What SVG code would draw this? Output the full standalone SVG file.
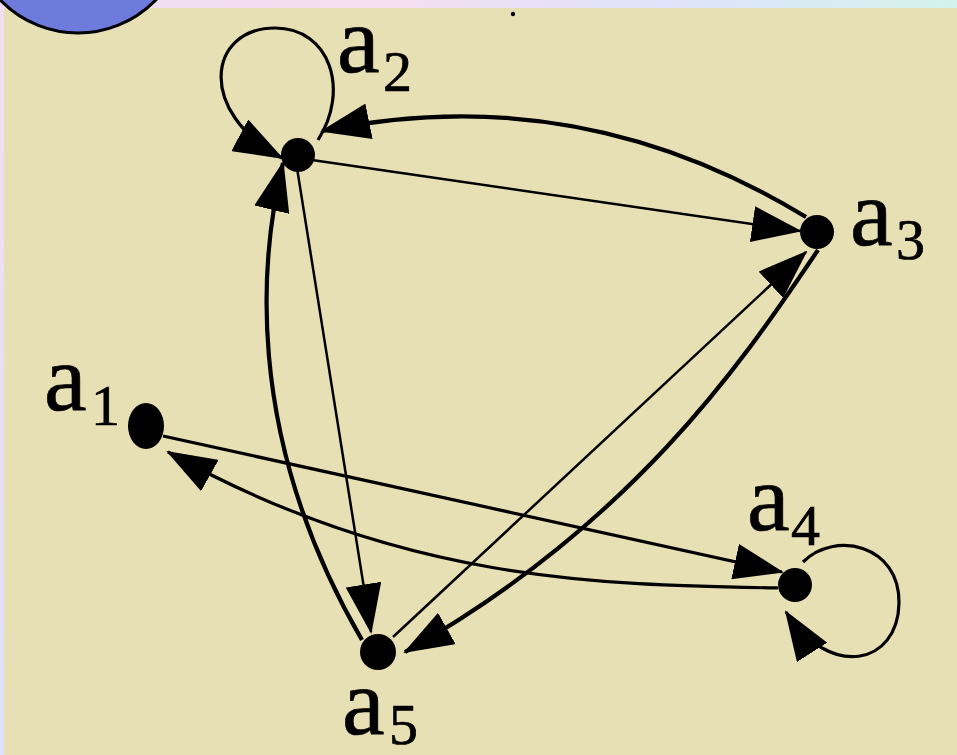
<svg xmlns="http://www.w3.org/2000/svg" width="957" height="755" viewBox="0 0 957 755">
  <defs>
    <linearGradient id="topg" x1="0" y1="0" x2="1" y2="0">
      <stop offset="0" stop-color="#EEDCF2"/>
      <stop offset="0.4" stop-color="#F5DFF0"/>
      <stop offset="0.7" stop-color="#DEE2FA"/>
      <stop offset="1" stop-color="#D4F3EC"/>
    </linearGradient>
    <linearGradient id="leftg" x1="0" y1="0" x2="0" y2="1">
      <stop offset="0" stop-color="#F3DDF0"/>
      <stop offset="1" stop-color="#DFE0FA"/>
    </linearGradient>
    <marker id="ah" markerUnits="userSpaceOnUse" viewBox="0 0 50 36" markerWidth="50" markerHeight="36" refX="48" refY="18" orient="auto">
      <path d="M0,0 L50,18 L0,36 z" fill="#000"/>
    </marker>
    <style>
      .edge { fill: none; stroke: #000; stroke-linecap: butt; marker-end: url(#ah); }
      .thin { stroke-width: 2.5; }
      .mid { stroke-width: 3.2; }
      .thick { stroke-width: 4.2; }
      .node { fill: #000; }
      .lbl { font-family: "Liberation Serif", "DejaVu Serif", serif; fill: #000; stroke: #000; stroke-width: 0.7; }
      .main { font-size: 96px; }
      .sub { font-size: 58px; }
    </style>
  </defs>

  <!-- background -->
  <rect x="0" y="0" width="957" height="755" fill="url(#topg)"/>
  <rect x="0" y="8" width="4" height="747" fill="url(#leftg)"/>
  <rect x="4" y="8" width="953" height="747" fill="#E7E0B5"/>
  <circle cx="78" cy="-75" r="108" fill="#6F7BDC" stroke="#000" stroke-width="3"/>
  <circle cx="513" cy="14" r="2.2" fill="#000"/>

  <g id="connectors">
    <path class="edge thin" d="M 312 160 L 800 231"/>
    <path class="edge thick" d="M 806 217 C 680 140, 520 90, 322 131"/>
    <path class="edge thin" d="M 297 168 L 371 632"/>
    <path class="edge thick" d="M 362 640 C 240 430, 262 250, 283 163"/>
    <path class="edge mid" d="M 163 436 L 782 572"/>
    <path class="edge mid" d="M 778 588 C 600 585, 400 582, 168 452"/>
    <path class="edge thin" d="M 393 637 L 806 252"/>
    <path class="edge thick" d="M 818 250 C 750 350, 640 520, 405 652"/>
    <path class="edge mid" d="M 318 140 C 350 90, 330 28, 275 28 C 208 28, 196 112, 282 158"/>
    <path class="edge mid" d="M 803 562 C 835 530, 900 545, 899 603 C 898 665, 830 680, 786 612"/>
  </g>

  <g id="a1">
    <ellipse class="node" cx="146" cy="426" rx="18" ry="23"/>
    <text class="lbl main" x="44" y="410">a</text>
    <text class="lbl sub" x="91" y="425">1</text>
  </g>
  <g id="a2">
    <circle class="node" cx="298" cy="155" r="17"/>
    <text class="lbl main" x="337" y="72">a</text>
    <text class="lbl sub" x="383" y="91">2</text>
  </g>
  <g id="a3">
    <circle class="node" cx="817" cy="232" r="17"/>
    <text class="lbl main" x="850" y="245">a</text>
    <text class="lbl sub" x="896" y="259">3</text>
  </g>
  <g id="a4">
    <circle class="node" cx="795" cy="585" r="17"/>
    <text class="lbl main" x="747" y="530">a</text>
    <text class="lbl sub" x="791" y="545">4</text>
  </g>
  <g id="a5">
    <circle class="node" cx="378" cy="652" r="18"/>
    <text class="lbl main" x="342" y="734">a</text>
    <text class="lbl sub" x="389" y="744">5</text>
  </g>
</svg>
